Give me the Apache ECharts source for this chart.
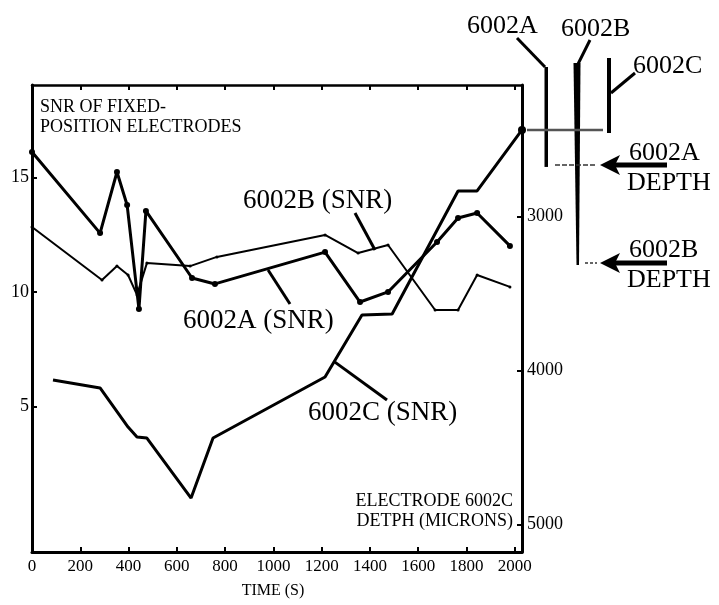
<!DOCTYPE html>
<html><head><meta charset="utf-8">
<script src="https://cdn.jsdelivr.net/npm/echarts@6/dist/echarts.min.js"></script>
<style>html,body{margin:0;padding:0;background:#fff}#c{width:719px;height:605px}</style>
</head><body><div id="c"></div>
<script>
// ---- data ----
const timeTicks = [0,200,400,600,800,1000,1200,1400,1600,1800,2000];
const snrTicks = [5,10,15];
const depthTicks = [3000,4000,5000];

const a_time = [0,282,352,394,443,472,663,758,1214,1359,1475,1678,1765,1844,1980];
const a_snr  = [16.12,12.58,15.25,13.81,9.26,13.55,10.62,10.36,11.75,9.57,10.01,12.19,13.24,13.46,12.02];

const b_time = [0,290,352,398,435,476,655,766,1214,1351,1475,1670,1765,1844,1980];
const b_snr  = [12.85,10.53,11.14,10.75,9.88,11.27,11.14,11.54,12.5,11.71,12.06,9.22,9.22,10.75,10.23];

const c_time  = [87,282,398,435,476,659,750,1214,1367,1492,1765,1844,2030];
const c_depth = [4060,4112,4366,4431,4437,4827,4437,4041,3638,3632,2833,2833,2437];

// electrode depths shown on the right diagram (microns)
const depthA = 2664, depthB = 3300, depthC = 2437;

// label pointer targets in data coords
const ptrB = [1421, 11.84];
const ptrA = [978, 10.97];
const ptrC = [1255, 3944];

const F = "'Liberation Serif','DejaVu Serif',serif";
const zip = (xs, ys) => xs.map((x,i)=>[x, ys[i]]);
const plain = v => String(v);

const chart = echarts.init(document.getElementById('c'), null, {renderer:'canvas'});
const axisLine = {show:true, onZero:false, lineStyle:{color:'#000', width:3}};
const opt = {
  animation:false,
  backgroundColor:'#fff',
  grid:{left:32, top:85, right:197, bottom:53, containLabel:false},
  xAxis:[
    {type:'value', position:'bottom', min:0, max:2030,
     axisLine, splitLine:{show:false},
     axisTick:{show:true, inside:true, length:5, lineStyle:{color:'#000', width:2}, customValues:timeTicks},
     axisLabel:{show:true, customValues:timeTicks, formatter:plain, color:'#000', fontFamily:F, fontSize:17, margin:6}},
    {type:'value', position:'top', min:0, max:2030,
     axisLine:{show:true, onZero:false, lineStyle:{color:'#000', width:2.5}}, splitLine:{show:false},
     axisTick:{show:true, inside:true, length:5, lineStyle:{color:'#000', width:2}, customValues:timeTicks},
     axisLabel:{show:false}}
  ],
  yAxis:[
    {type:'value', position:'left', min:-1.35, max:19.05,
     axisLine, splitLine:{show:false},
     axisTick:{show:true, inside:true, length:5, lineStyle:{color:'#000', width:2}, customValues:snrTicks},
     axisLabel:{show:true, customValues:snrTicks, formatter:plain, color:'#000', fontFamily:F, fontSize:18, margin:3}},
    {type:'value', position:'right', min:2145, max:5177, inverse:true,
     axisLine, splitLine:{show:false},
     axisTick:{show:true, inside:true, length:5, lineStyle:{color:'#000', width:2}, customValues:depthTicks},
     axisLabel:{show:true, customValues:depthTicks, formatter:plain, color:'#000', fontFamily:F, fontSize:18, margin:5}}
  ],
  series:[
    {name:'6002A (SNR)', type:'line', xAxisIndex:0, yAxisIndex:0, data:zip(a_time,a_snr),
     symbol:'circle', symbolSize:6, itemStyle:{color:'#000'}, lineStyle:{color:'#000', width:3}},
    {name:'6002B (SNR)', type:'line', xAxisIndex:0, yAxisIndex:0, data:zip(b_time,b_snr),
     symbol:'circle', symbolSize:3, itemStyle:{color:'#000'}, lineStyle:{color:'#000', width:2}},
    {name:'6002C depth', type:'line', xAxisIndex:0, yAxisIndex:1, data:zip(c_time,c_depth),
     symbol:'circle', symbolSize:(v,p)=> p.dataIndex === c_time.length-1 ? 8 : 0,
     itemStyle:{color:'#000'}, lineStyle:{color:'#000', width:3}}
  ]
};
chart.setOption(opt);

const P = (t, v) => chart.convertToPixel({xAxisIndex:0, yAxisIndex:0}, [t, v]);
const PD = (t, d) => chart.convertToPixel({xAxisIndex:0, yAxisIndex:1}, [t, d]);
const yD = d => PD(0, d)[1];

const txt = (text, x, y, size, align, extra) => Object.assign({type:'text', silent:true,
  style:{text, x, y, fill:'#000', font: size + 'px ' + F, textAlign:align||'left', textVerticalAlign:'middle'}}, extra||{});
const ln = (x1,y1,x2,y2,w,color,dash) => ({type:'line', silent:true, shape:{x1,y1,x2,y2},
  style:{stroke:color||'#000', lineWidth:w||2, lineDash:dash||null}});
const arrow = (xTip, y, xTail) => ([
  ln(xTip+14, y, xTail, y, 5),
  {type:'polygon', silent:true, shape:{points:[[xTip,y],[xTip+20,y-10],[xTip+15,y],[xTip+20,y+10]]}, style:{fill:'#000'}}
]);

const pB = P(ptrB[0], ptrB[1]);
const pA = P(ptrA[0], ptrA[1]);
const pC = PD(ptrC[0], ptrC[1]);
const yA = yD(depthA), yB = yD(depthB), yC = yD(depthC);

const g = [
  txt('SNR OF FIXED-', 40, 107, 18),
  txt('POSITION ELECTRODES', 40, 127, 18),
  txt('ELECTRODE 6002C', 513, 501, 18, 'right'),
  txt('DETPH (MICRONS)', 513, 521, 18, 'right'),
  txt('TIME (S)', 273, 591, 16, 'center'),
  txt('6002B (SNR)', 243, 201, 27),
  ln(355, 213, pB[0], pB[1], 3),
  txt('6002A (SNR)', 183, 321, 27),
  ln(290, 304, pA[0], pA[1], 3),
  txt('6002C (SNR)', 308, 413, 27),
  ln(387, 400, pC[0], pC[1], 3),
  // electrode diagram
  txt('6002A', 467, 26, 26),
  txt('6002B', 561, 29, 26),
  txt('6002C', 633, 66, 26),
  ln(517, 38, 545, 67, 3),
  ln(590, 40, 578, 64, 3),
  ln(635, 73, 611, 93, 3),
  {type:'rect', silent:true, shape:{x:544.5, y:67, width:3.5, height:yA+2-67}, style:{fill:'#000'}},
  {type:'polygon', silent:true, shape:{points:[[573.5,63],[580.5,63],[579,yB+2],[576.5,yB+2]]}, style:{fill:'#000'}},
  {type:'rect', silent:true, shape:{x:607, y:58, width:4, height:yC+3-58}, style:{fill:'#000'}},
  ln(527, yC, 603, yC, 2.5, '#555'),
  ln(555, yA, 596, yA, 1.5, '#333', [5,2]),
  ln(585, yB, 597, yB, 1.5, '#333', [3,2]),
  ...arrow(600, yA, 667),
  ...arrow(600, yB, 667),
  txt('6002A', 629, 153, 26),
  txt('DEPTH', 627, 183, 26),
  txt('6002B', 629, 250, 26),
  txt('DEPTH', 627, 280, 26)
];
chart.setOption({graphic:{elements:g}});
</script></body></html>
